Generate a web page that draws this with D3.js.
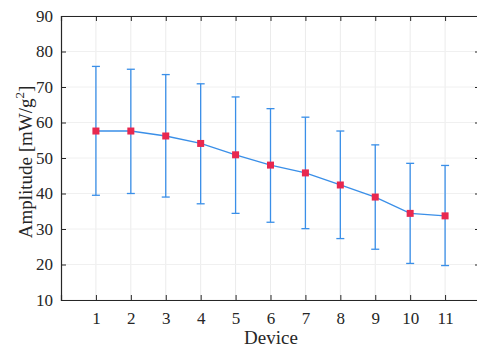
<!DOCTYPE html>
<html>
<head>
<meta charset="utf-8">
<script src="https://cdn.jsdelivr.net/npm/d3@7"></script>
<style>
  body { margin: 0; background: #fff; }
  svg { display: block; }
  svg text { font-family: "Liberation Serif", "DejaVu Serif", serif; }
</style>
</head>
<body>
<div id="chart"></div>
<script>
// data
var devices = [1, 2, 3, 4, 5, 6, 7, 8, 9, 10, 11];
var means = [57.6, 57.6, 56.2, 54.1, 50.9, 48.0, 45.8, 42.4, 39.0, 34.4, 33.7];
var upper = [75.8, 75.0, 73.5, 70.9, 67.2, 63.9, 61.5, 57.6, 53.7, 48.5, 47.9];
var lower = [39.5, 40.0, 39.0, 37.1, 34.4, 31.9, 30.1, 27.3, 24.3, 20.3, 19.7];
var yTicks = [10, 20, 30, 40, 50, 60, 70, 80, 90];

var svgWidth = 477;
var svgHeight = 347;

var margin = { top: 16, right: -3, bottom: 47, left: 61 };
var width = svgWidth - margin.left - margin.right;
var height = svgHeight - margin.top - margin.bottom;

var blue = "#3a8fe8";
var red = "#e8284f";

var svg = d3.select("#chart")
  .append("svg")
  .attr("width", svgWidth)
  .attr("height", svgHeight);

var chartGroup = svg.append("g")
  .attr("transform", `translate(${margin.left}, ${margin.top})`);

var data = devices.map(function(d, i) {
  return { device: d, mean: means[i], hi: upper[i], lo: lower[i] };
});

// scales
var xScale = d3.scaleLinear().domain([0, 12]).range([0, width]);
var yScale = d3.scaleLinear().domain([10, 90]).range([height, 0]);

// grid
chartGroup.append("g")
  .selectAll("line.gx")
  .data(devices)
  .enter()
  .append("line")
  .attr("x1", d => xScale(d)).attr("x2", d => xScale(d))
  .attr("y1", 0).attr("y2", height)
  .attr("stroke", "#ebebeb").attr("stroke-width", 1);

chartGroup.append("g")
  .selectAll("line.gy")
  .data(yTicks)
  .enter()
  .append("line")
  .attr("x1", 0).attr("x2", width)
  .attr("y1", d => yScale(d)).attr("y2", d => yScale(d))
  .attr("stroke", "#f0f0f0").attr("stroke-width", 1);

// axes
var xAxis = d3.axisBottom(xScale).tickValues(devices).tickSize(-5).tickPadding(12).tickFormat(d3.format("d"));
var yAxis = d3.axisLeft(yScale).tickValues(yTicks).tickSize(-5).tickPadding(8);

chartGroup.append("g")
  .attr("transform", `translate(0, ${height})`)
  .call(xAxis);
chartGroup.append("g").call(yAxis);

// top / right ticks
chartGroup.append("g")
  .call(d3.axisTop(xScale).tickValues(devices).tickSize(-5).tickFormat(""));
chartGroup.append("g")
  .attr("transform", `translate(${width}, 0)`)
  .call(d3.axisRight(yScale).tickValues(yTicks).tickSize(-5).tickFormat(""));

svg.selectAll(".domain").attr("stroke", "#262626").attr("stroke-width", 1.2);
svg.selectAll(".tick line").attr("stroke", "#262626").attr("stroke-width", 1);
svg.selectAll(".tick text")
  .attr("fill", "#262626")
  .attr("font-size", 17);

// error bars
var bars = chartGroup.append("g");
bars.selectAll("line.eb")
  .data(data)
  .enter()
  .append("line")
  .attr("x1", d => xScale(d.device)).attr("x2", d => xScale(d.device))
  .attr("y1", d => yScale(d.hi)).attr("y2", d => yScale(d.lo))
  .attr("stroke", blue).attr("stroke-width", 1.3);

bars.selectAll("line.capT")
  .data(data)
  .enter()
  .append("line")
  .attr("x1", d => xScale(d.device) - 4).attr("x2", d => xScale(d.device) + 4)
  .attr("y1", d => yScale(d.hi)).attr("y2", d => yScale(d.hi))
  .attr("stroke", blue).attr("stroke-width", 1.3);

bars.selectAll("line.capB")
  .data(data)
  .enter()
  .append("line")
  .attr("x1", d => xScale(d.device) - 4).attr("x2", d => xScale(d.device) + 4)
  .attr("y1", d => yScale(d.lo)).attr("y2", d => yScale(d.lo))
  .attr("stroke", blue).attr("stroke-width", 1.3);

// mean line
var line = d3.line().x(d => xScale(d.device)).y(d => yScale(d.mean));
chartGroup.append("path")
  .datum(data)
  .attr("d", line)
  .attr("fill", "none")
  .attr("stroke", blue)
  .attr("stroke-width", 1.3);

// markers
chartGroup.selectAll("rect.mk")
  .data(data)
  .enter()
  .append("rect")
  .attr("x", d => xScale(d.device) - 3.5)
  .attr("y", d => yScale(d.mean) - 3.5)
  .attr("width", 7)
  .attr("height", 7)
  .attr("fill", red);

// axis labels
svg.append("text")
  .attr("x", 271)
  .attr("y", 344)
  .attr("text-anchor", "middle")
  .attr("fill", "#262626")
  .style("font-size", "19px")
  .text("Device");

var yl = svg.append("text")
  .attr("transform", "translate(32, 162) rotate(-90)")
  .attr("text-anchor", "middle")
  .attr("fill", "#262626")
  .style("font-size", "19px");
yl.append("tspan").text("Amplitude [mW/g");
yl.append("tspan").attr("dy", -8).style("font-size", "13px").text("2");
yl.append("tspan").attr("dy", 8).text("]");
</script>
</body>
</html>
